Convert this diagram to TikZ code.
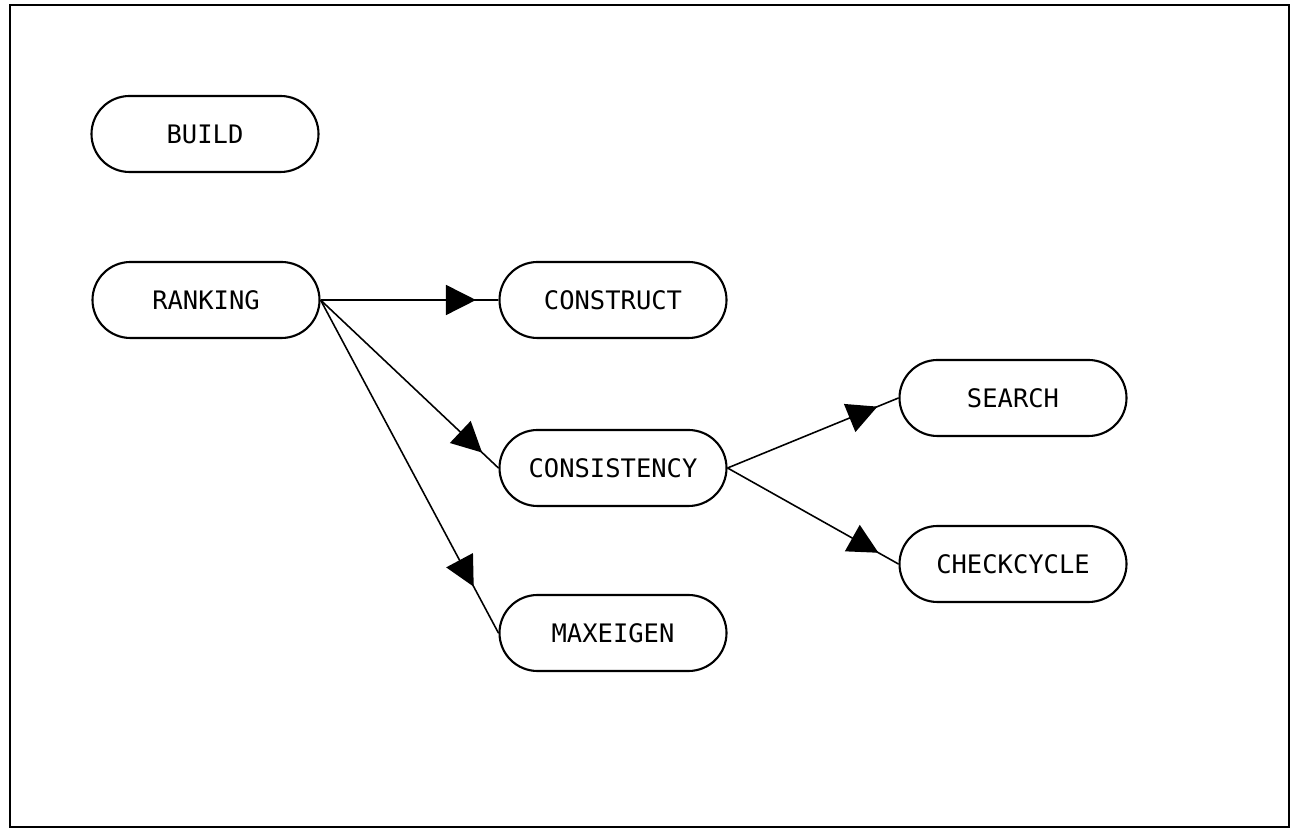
\documentclass[tikz,border=0pt]{standalone}
\usepackage{fontspec}
\setmonofont{DejaVu Sans Mono}
\usepackage{tikz}
\usetikzlibrary{
    arrows.meta,
    decorations.markings
}

\tikzset{
    proc/.style={draw, line width=1.2pt, rectangle, rounded corners=7.6mm,
        minimum width=4.54cm, minimum height=1.52cm,
        font=\ttfamily\fontsize{14.5}{16}\selectfont},
    call/.style={line width=0.9pt, postaction={decorate},
        decoration={markings, mark=at position #1 with {\arrow{Triangle[length=6mm,width=6mm]}}}},
    call/.default={-0.45cm}
}

\begin{document}
\begin{tikzpicture}

\useasboundingbox (0,0) rectangle (25.86,16.6);

% Frame
\draw[line width=1.1pt] (0.2,0.06) rectangle (25.78,16.5);

% Modules
\node[proc] (build) at (4.1,13.92) {BUILD};
\node[proc] (ranking) at (4.12,10.6) {RANKING};

\node[proc] (construct) at (12.26,10.6) {CONSTRUCT};
\node[proc] (consistency) at (12.26,7.24) {CONSISTENCY};
\node[proc] (maxeigen) at (12.26,3.94) {MAXEIGEN};

\node[proc] (search) at (20.26,8.64) {SEARCH};
\node[proc] (checkcycle) at (20.26,5.32) {CHECKCYCLE};

% Calls from RANKING
\draw[call] (ranking.east) -- (construct.west);
\draw[call] (ranking.east) -- (consistency.west);
\draw[call=-1.05cm] (ranking.east) -- (maxeigen.west);

% Calls from CONSISTENCY
\draw[call] (consistency.east) -- (search.west);
\draw[call] (consistency.east) -- (checkcycle.west);

\end{tikzpicture}
\end{document}
